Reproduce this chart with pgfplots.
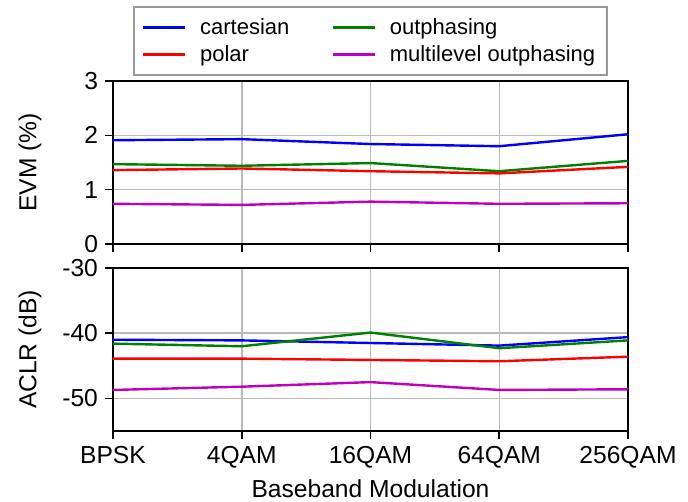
\documentclass[border=0pt]{standalone}
\usepackage{fontspec}
\setmainfont{Liberation Sans}
\usepackage{pgfplots}
\pgfplotsset{compat=1.18}
\usetikzlibrary{calc}

\definecolor{mblue}{rgb}{0,0,1}
\definecolor{mred}{rgb}{1,0,0}
\definecolor{mgreen}{rgb}{0,0.5,0}
\definecolor{mmag}{rgb}{0.75,0,0.75}

\pgfplotsset{
  panel/.style={
    width=257.5pt, height=81.5pt, scale only axis,
    xmin=0, xmax=4, xtick={0,1,2,3,4},
    grid=major, grid style={line width=0.75pt, color=black!27},
    tick align=outside, xtick pos=bottom, ytick pos=left,
    major tick length=4pt,
    every tick/.style={black, line width=0.8pt},
    axis line style={line width=1pt},
    tick label style={font=\fontsize{12.3}{14}\selectfont},
    label style={font=\fontsize{12.3}{14}\selectfont},
    /pgf/number format/assume math mode=true,
    every axis plot/.append style={line width=1.2pt},
    ylabel style={at={(axis description cs:-0.161,0.5)}, anchor=center},
  },
}

\begin{document}
\begin{tikzpicture}
\begin{axis}[panel, name=top,
    ymin=0, ymax=3, ytick={0,1,2,3},
    xticklabels={},
    ylabel={EVM (\%)},
    legend columns=2,
    legend cell align=left,
    legend style={at={(0.5,1)}, anchor=south, yshift=2.5pt,
      draw=black!40, line width=1pt,
      font=\fontsize{11}{13}\selectfont,
      inner xsep=4pt, inner ysep=3.5pt,
      /tikz/every odd column/.append style={column sep=5pt},
      /tikz/every even column/.append style={column sep=19pt}},
    legend image code/.code={\draw[#1, line width=1.2pt] (0pt,0pt) -- (21pt,0pt);},
]
\addplot[mblue] coordinates {(0,1.91) (1,1.93) (2,1.84) (3,1.80) (4,2.02)};
\addplot[mgreen] coordinates {(0,1.47) (1,1.44) (2,1.49) (3,1.34) (4,1.53)};
\addplot[mred] coordinates {(0,1.36) (1,1.39) (2,1.34) (3,1.30) (4,1.42)};
\addplot[mmag] coordinates {(0,0.74) (1,0.72) (2,0.78) (3,0.74) (4,0.75)};
\legend{cartesian, outphasing, polar, multilevel outphasing}
\end{axis}

\begin{axis}[panel, name=bot,
    at={($(top.south west)+(0,-12pt)$)}, anchor=north west,
    ymin=-55, ymax=-30, ytick={-50,-40,-30}, yticklabels={-50,-40,-30},
    xticklabels={BPSK, 4QAM, 16QAM, 64QAM, 256QAM},
    ylabel={ACLR (dB)},
    xlabel={Baseband Modulation},
    xlabel style={at={(axis description cs:0.5,-0.356)}, anchor=center},
]
\addplot[mblue] coordinates {(0,-41.0) (1,-41.1) (2,-41.5) (3,-41.9) (4,-40.6)};
\addplot[mgreen] coordinates {(0,-41.6) (1,-42.0) (2,-39.9) (3,-42.3) (4,-41.1)};
\addplot[mred] coordinates {(0,-43.9) (1,-43.9) (2,-44.1) (3,-44.3) (4,-43.6)};
\addplot[mmag] coordinates {(0,-48.7) (1,-48.2) (2,-47.5) (3,-48.7) (4,-48.6)};
\end{axis}

\pgfresetboundingbox
\path[use as bounding box] ($(top.north west)+(-56.5pt,40.5pt)$) rectangle ($(bot.south east)+(30pt,-35pt)$);
\end{tikzpicture}
\end{document}
